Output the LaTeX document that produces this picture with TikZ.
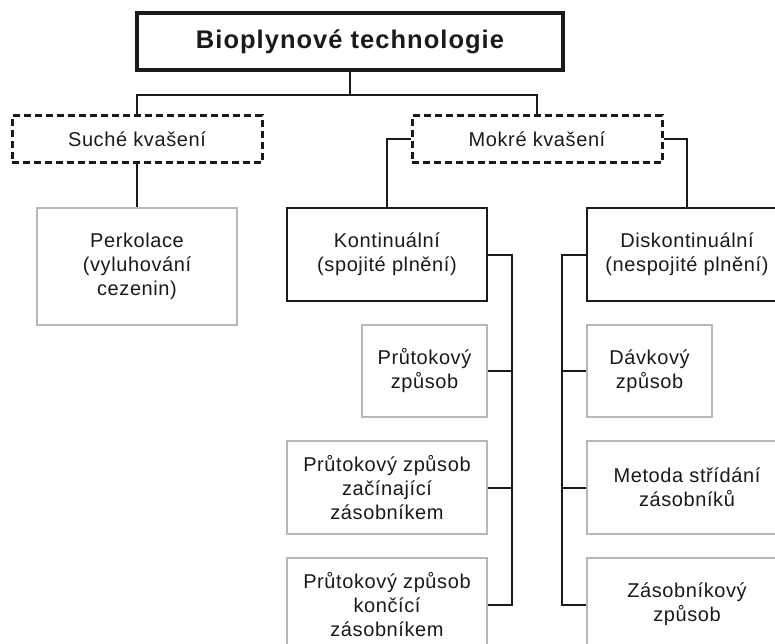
\documentclass[tikz,border=0pt]{standalone}
\usepackage{fontspec}
\setmainfont{Liberation Sans}
\newfontfamily\normfont[LetterSpace=3]{Liberation Sans}
\newfontfamily\titlefont[LetterSpace=4]{Liberation Sans Bold}
\definecolor{ink}{HTML}{1A1A1A}
\definecolor{lightedge}{HTML}{B8B8B8}
\tikzset{
  base/.style={inner sep=0pt, align=center, text=ink, font=\normfont\fontsize{20}{24}\selectfont},
  titlebox/.style={base, draw=ink, line width=3.3pt, minimum width=426pt, minimum height=57pt, font=\titlefont\fontsize{25.5}{30}\selectfont},
  dashbox/.style={base, draw=ink, line width=3pt, dash pattern=on 7pt off 4pt, minimum width=250pt, minimum height=47pt},
  boldbox/.style={base, draw=ink, line width=2.2pt, minimum width=200pt, minimum height=93pt},
  lightbox/.style={base, draw=lightedge, line width=1.3pt, minimum width=200pt, minimum height=93pt},
  smallbox/.style={lightbox, minimum width=125pt, minimum height=92pt},
  conn/.style={draw=ink, line width=2pt}
}
\begin{document}
\begin{tikzpicture}[x=1pt,y=-1pt]
\useasboundingbox (0,0) rectangle (775,644);
\fill[white] (0,0) rectangle (775,644);
\clip (0,0) rectangle (775,644);
\node[titlebox] (title) at (350,41.5) {Bioplynové technologie};
\node[dashbox] (suche) at (137,139.5) {Suché kvašení};
\node[dashbox] (mokre) at (537,139.5) {Mokré kvašení};
\node[lightbox, minimum height=117pt] (perk) at (137,266.5) {Perkolace\\(vyluhování\\cezenin)};
\node[boldbox] (kont) at (387,254.5) {Kontinuální\\(spojité plnění)};
\node[boldbox] (disk) at (687,254.5) {Diskontinuální\\(nespojité plnění)};
\node[smallbox] (prut1) at (424.5,371) {Průtokový\\způsob};
\node[lightbox] (prut2) at (387,487.5) {Průtokový způsob\\začínající\\zásobníkem};
\node[lightbox] (prut3) at (387,604.5) {Průtokový způsob\\končící\\zásobníkem};
\node[smallbox] (davk) at (649.5,371) {Dávkový\\způsob};
\node[lightbox] (meto) at (687,487.5) {Metoda střídání\\zásobníků};
\node[lightbox] (zaso) at (687,604.5) {Zásobníkový\\způsob};
\coordinate (kbot) at (512,604.5);
\coordinate (dbot) at (562,604.5);
\draw[conn] (title.south) -- ++(0,23) -| (suche.north);
\draw[conn] (title.south) -- ++(0,23) -| (mokre.north);
\draw[conn] (suche.south) -- (perk.north);
\draw[conn] (mokre.west) -| (kont.north);
\draw[conn] (mokre.east) -| (disk.north);
\draw[conn] (kont.east) -| (kbot) -- (prut3.east);
\draw[conn] (prut1.east) -- ++(25,0);
\draw[conn] (prut2.east) -- ++(25,0);
\draw[conn] (disk.west) -| (dbot) -- (zaso.west);
\draw[conn] (davk.west) -- ++(-25,0);
\draw[conn] (meto.west) -- ++(-25,0);
\end{tikzpicture}
\end{document}
